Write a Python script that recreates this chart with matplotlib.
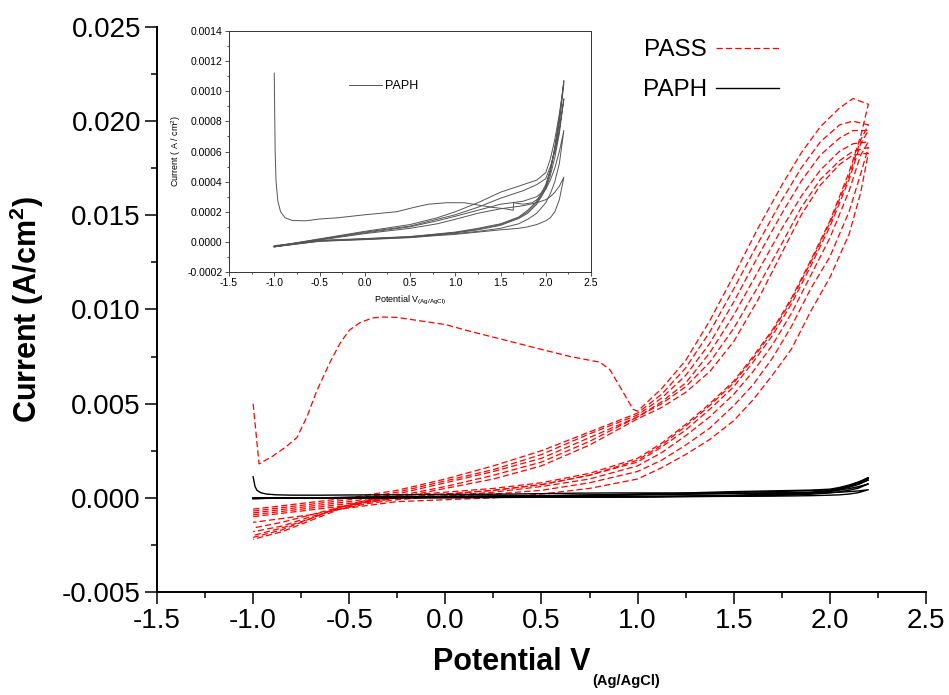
import matplotlib
matplotlib.use("Agg")
import matplotlib.pyplot as plt
from matplotlib.ticker import MultipleLocator, FormatStrFormatter

plt.rcParams['font.family'] = ['Liberation Sans', 'DejaVu Sans']
plt.rcParams['axes.unicode_minus'] = False
plt.rcParams['mathtext.fontset'] = 'custom'
plt.rcParams['mathtext.rm'] = 'Liberation Sans'
plt.rcParams['mathtext.bf'] = 'Liberation Sans:bold'

# ---- PASS (red dashed), potential in V, current in A/cm2 ----
# first scan: nucleation hump
pass_nuc_v = [-1.0, -0.969, -0.9, -0.83, -0.772, -0.72, -0.668, -0.6, -0.548, -0.5,
              -0.444, -0.38, -0.324, -0.25, -0.2, 0.0, 0.144, 0.3, 0.492, 0.65,
              0.804, 0.856, 0.908, 0.976]
pass_nuc_i = [0.0050, 0.0018, 0.0022, 0.0027, 0.0032, 0.0043, 0.0057, 0.0072, 0.0082, 0.0089,
              0.0093, 0.00955, 0.0096, 0.00958, 0.0095, 0.0092, 0.0088, 0.0084, 0.0079, 0.0075,
              0.0072, 0.0068, 0.0059, 0.0047]

pass_vf = [-1.0, -0.75, -0.5, -0.25, 0.0, 0.25, 0.5, 0.75, 1.0, 1.125, 1.25, 1.375,
           1.5, 1.625, 1.75, 1.85, 1.95, 2.05, 2.12, 2.2]
pass_vr = [2.2, 2.16, 2.1, 2.0, 1.9, 1.8, 1.7, 1.6, 1.5, 1.375, 1.25, 1.125, 1.0,
           0.75, 0.5, 0.25, 0.0, -0.25, -0.4, -0.55, -0.7, -0.85, -1.0]

pass_fwd1 = [0.0046, 0.0058, 0.0073, 0.0094, 0.0118, 0.0143, 0.0166, 0.0183, 0.0197, 0.0207, 0.0212, 0.0209]
pass_fwd2 = [-0.0006, -0.0003, 0.0000, 0.0004, 0.0010, 0.0017, 0.0025, 0.0035, 0.0045, 0.0055, 0.0069, 0.0088,
             0.0111, 0.0135, 0.0158, 0.0175, 0.0189, 0.0198, 0.0200, 0.0198]
pass_fwd3 = [-0.0007, -0.0004, -0.0001, 0.0003, 0.0009, 0.0015, 0.0023, 0.0034, 0.0044, 0.0053, 0.0065, 0.0082,
             0.0104, 0.0128, 0.0151, 0.0168, 0.0182, 0.0191, 0.0195, 0.0195]
pass_fwd4 = [-0.0008, -0.0005, -0.0002, 0.0002, 0.0008, 0.0014, 0.0021, 0.0032, 0.0043, 0.0051, 0.0061, 0.0077,
             0.0097, 0.0120, 0.0143, 0.0160, 0.0174, 0.0184, 0.0188, 0.0189]
pass_fwd5 = [-0.0009, -0.0006, -0.0003, 0.0001, 0.0006, 0.0012, 0.0019, 0.0030, 0.0043, 0.0050, 0.0059, 0.0072,
             0.0090, 0.0112, 0.0135, 0.0154, 0.0169, 0.0179, 0.0184, 0.0186]
pass_fwd6 = [-0.0010, -0.0007, -0.0004, 0.0000, 0.0005, 0.0010, 0.0017, 0.0028, 0.0042, 0.0048, 0.0056, 0.0067,
             0.0083, 0.0105, 0.0130, 0.0150, 0.0166, 0.0177, 0.0182, 0.0183]

pass_rev1 = [0.0209, 0.0192, 0.0173, 0.0147, 0.0126, 0.0106, 0.0089, 0.0075, 0.0062, 0.0050, 0.0039, 0.0029,
             0.0021, 0.0013, 0.0008, 0.0005, 0.0003, 0.0001, -0.0001, -0.0005, -0.0011, -0.0017, -0.0021]
pass_rev2 = [0.0198, 0.0190, 0.0171, 0.0146, 0.0125, 0.0105, 0.0088, 0.0074, 0.0061, 0.0049, 0.0038, 0.0028,
             0.0020, 0.0012, 0.0007, 0.0004, 0.0002, 0.0000, -0.0002, -0.0006, -0.0012, -0.0018, -0.0022]
pass_rev3 = [0.0195, 0.0188, 0.0169, 0.0144, 0.0123, 0.0103, 0.0086, 0.0072, 0.0059, 0.0047, 0.0036, 0.0027,
             0.0019, 0.0012, 0.0007, 0.0004, 0.0002, 0.0000, -0.0002, -0.0005, -0.0011, -0.0016, -0.0020]
pass_rev4 = [0.0189, 0.0182, 0.0163, 0.0138, 0.0118, 0.0098, 0.0081, 0.0067, 0.0055, 0.0043, 0.0033, 0.0024,
             0.0017, 0.0010, 0.0006, 0.0003, 0.0001, -0.0001, -0.0003, -0.0006, -0.0010, -0.0015, -0.0018]
pass_rev5 = [0.0186, 0.0172, 0.0152, 0.0128, 0.0111, 0.0091, 0.0074, 0.0060, 0.0049, 0.0037, 0.0028, 0.0020,
             0.0014, 0.0008, 0.0004, 0.0002, 0.0001, 0.0000, -0.0002, -0.0005, -0.0009, -0.0013, -0.0016]
pass_rev6 = [0.0183, 0.0162, 0.0140, 0.0117, 0.0099, 0.0079, 0.0065, 0.0052, 0.0041, 0.0031, 0.0023, 0.0016,
             0.0010, 0.0005, 0.0002, 0.0000, -0.0001, -0.0002, -0.0004, -0.0006, -0.0009, -0.0011, -0.0013]

# ---- PAPH (black / grey solid) ----
paph_v1 = [-1.0, -0.99, -0.98, -0.96, -0.93, -0.88, -0.8, -0.65, -0.5, -0.3, 0.0, 0.35, 0.55, 0.7,
           0.9, 1.1, 1.25, 1.4, 1.55, 1.64, 1.645, 1.75, 1.85, 1.95, 2.0, 2.05, 2.1, 2.15, 2.2]
paph_i1 = [0.00112, 0.00060, 0.00040, 0.00027, 0.00020, 0.00016, 0.000142, 0.00014, 0.000152, 0.00016,
           0.00018, 0.00020, 0.00023, 0.00025, 0.00026, 0.00026, 0.000245, 0.00023, 0.00022, 0.00021,
           0.00026, 0.00025, 0.00026, 0.00030, 0.00036, 0.00047, 0.00063, 0.00083, 0.00107]

paph_vf = [-1.0, -0.5, 0.0, 0.5, 0.8, 1.0, 1.25, 1.5, 1.75, 1.9, 2.0, 2.05, 2.1, 2.15, 2.2]
paph_fwd2 = [-0.00003, 0.00002, 0.00007, 0.000115, 0.00016, 0.00020, 0.00026, 0.00033, 0.00038, 0.00041,
             0.00046, 0.00055, 0.00068, 0.00085, 0.00105]
paph_fwd3 = [-0.00003, 0.000018, 0.000065, 0.000105, 0.00015, 0.00018, 0.00023, 0.00029, 0.00034, 0.00038,
             0.00042, 0.00050, 0.00060, 0.00075, 0.00095]
paph_fwd4 = [-0.000032, 0.000015, 0.00006, 0.0001, 0.00014, 0.00017, 0.00021, 0.00025, 0.00027, 0.00030,
             0.00035, 0.00041, 0.00049, 0.00060, 0.00074]
paph_fwd5 = [-0.000033, 0.000012, 0.000055, 0.00009, 0.00012, 0.00015, 0.00019, 0.00022, 0.00024, 0.00026,
             0.00028, 0.00030, 0.00033, 0.00037, 0.00043]

paph_vr = [2.2, 2.15, 2.1, 2.05, 2.0, 1.9, 1.8, 1.7, 1.5, 1.25, 1.0, 0.75, 0.5, 0.0, -0.5, -1.0]
paph_rev1 = [0.00107, 0.00080, 0.00062, 0.00048, 0.00038, 0.00027, 0.00021, 0.000165, 0.00012, 0.00009,
             0.000065, 0.00005, 0.000036, 0.000022, 0.00001, -0.000025]
paph_rev2 = [0.00105, 0.00079, 0.00061, 0.00047, 0.00037, 0.00026, 0.00020, 0.00016, 0.000115, 0.000085,
             0.000062, 0.000048, 0.000034, 0.00002, 0.000008, -0.000028]
paph_rev3 = [0.00095, 0.00072, 0.00056, 0.00044, 0.00035, 0.00025, 0.00019, 0.000155, 0.00011, 0.00008,
             0.00006, 0.000045, 0.000032, 0.000019, 0.000007, -0.00003]
paph_rev4 = [0.00074, 0.00052, 0.00040, 0.00032, 0.00026, 0.00019, 0.00015, 0.00012, 0.00009, 0.00007,
             0.000055, 0.000042, 0.00003, 0.000017, 0.000005, -0.000032]
paph_rev5 = [0.00043, 0.00028, 0.00020, 0.00016, 0.00014, 0.000115, 0.0001, 0.00009, 0.00008, 0.000065,
             0.00005, 0.00004, 0.000028, 0.000015, 0.000004, -0.000033]

# assemble the scans
pass_scans = [(pass_nuc_v + pass_vf[8:] + pass_vr, pass_nuc_i + pass_fwd1 + pass_rev1)]
for f, r in [(pass_fwd2, pass_rev2), (pass_fwd3, pass_rev3), (pass_fwd4, pass_rev4),
             (pass_fwd5, pass_rev5), (pass_fwd6, pass_rev6)]:
    pass_scans.append((pass_vf + pass_vr, f + r))

paph_scans = [(paph_v1 + paph_vr, paph_i1 + paph_rev1)]
for f, r in [(paph_fwd2, paph_rev2), (paph_fwd3, paph_rev3), (paph_fwd4, paph_rev4), (paph_fwd5, paph_rev5)]:
    paph_scans.append((paph_vf + paph_vr, f + r))

fig = plt.figure(figsize=(9.49, 6.95), dpi=100)
ax = fig.add_axes([0.1654, 0.1482, 0.8104, 0.8130])

dash = (0, (5, 2.5))
for k, (v, i) in enumerate(pass_scans):
    ln = ax.plot(v, i, color='red', lw=0.9, linestyle=dash)[0]
    if k == 0:
        pass_line = ln
for k, (v, i) in enumerate(paph_scans):
    ln = ax.plot(v, i, color='black', lw=1.0)[0]
    if k == 0:
        paph_line = ln

ax.set_xlim(-1.5, 2.5)
ax.set_ylim(-0.005, 0.025)
ax.xaxis.set_major_locator(MultipleLocator(0.5))
ax.xaxis.set_minor_locator(MultipleLocator(0.25))
ax.yaxis.set_major_locator(MultipleLocator(0.005))
ax.yaxis.set_minor_locator(MultipleLocator(0.0025))
ax.xaxis.set_major_formatter(FormatStrFormatter('%.1f'))
ax.yaxis.set_major_formatter(FormatStrFormatter('%.3f'))
for s in ['top', 'right']:
    ax.spines[s].set_visible(False)
for s in ['left', 'bottom']:
    ax.spines[s].set_linewidth(1.4)
ax.tick_params(which='major', direction='out', length=8.5, width=1.1, labelsize=20, pad=3)
ax.tick_params(which='minor', direction='out', length=4.3, width=1.1)

ax.set_ylabel(r'Current (A/cm$^{\mathbf{2}}$)', fontsize=22, fontweight='bold')
ax.yaxis.set_label_coords(-0.144, 0.5)
# x label: big "Potential V" with a small bold subscript after it
ax.set_xlabel('Potential V', fontsize=22, fontweight='bold')
ax.xaxis.set_label_coords(0.4616, -0.097)
ax.annotate('(Ag/AgCl)', xy=(1.0, 0.0), xycoords=ax.xaxis.label, xytext=(1, -8),
            textcoords='offset points', ha='left', va='bottom', fontsize=10.5, fontweight='bold')

ax.legend([pass_line, paph_line], ['PASS', 'PAPH'], loc='upper left',
          bbox_to_anchor=(643 / 949, 1 - 39 / 695), bbox_transform=fig.transFigure,
          frameon=False, markerfirst=False, fontsize=17.5, handlelength=2.6,
          handletextpad=0.35, labelspacing=0.75, borderpad=0, borderaxespad=0)

# ---- inset: PAPH only ----
ins = fig.add_axes([0.2413, 0.6086, 0.3815, 0.3468])
for k, (v, i) in enumerate(paph_scans):
    ln = ins.plot(v, i, color='#555555', lw=0.7)[0]
    if k == 0:
        ins_line = ln
ins.set_xlim(-1.5, 2.5)
ins.set_ylim(-0.0002, 0.0014)
ins.xaxis.set_major_locator(MultipleLocator(0.5))
ins.xaxis.set_minor_locator(MultipleLocator(0.25))
ins.yaxis.set_major_locator(MultipleLocator(0.0002))
ins.yaxis.set_minor_locator(MultipleLocator(0.0001))
ins.xaxis.set_major_formatter(FormatStrFormatter('%.1f'))
ins.yaxis.set_major_formatter(FormatStrFormatter('%.4f'))
for s in ins.spines.values():
    s.set_linewidth(0.7)
    s.set_color('#333333')
ins.tick_params(which='major', direction='out', length=3, width=0.6, labelsize=7.5, pad=1.5,
                colors='#333333', labelcolor='black')
ins.tick_params(which='minor', direction='out', length=1.6, width=0.6, colors='#333333')
ins.set_xlabel(r'Potential V$_{\mathrm{(Ag/AgCl)}}$', fontsize=6.5, labelpad=4)
ins.set_ylabel(r'Current ( A / cm$^{\mathrm{2}}$)', fontsize=6.5, labelpad=3)
ins.legend([ins_line], ['PAPH'], loc='center left', bbox_to_anchor=(349 / 949, 1 - 86 / 695),
           bbox_transform=fig.transFigure, frameon=False, fontsize=9, handlelength=2.6,
           handletextpad=0.3, borderpad=0, borderaxespad=0)

fig.savefig('out.png', dpi=100)
